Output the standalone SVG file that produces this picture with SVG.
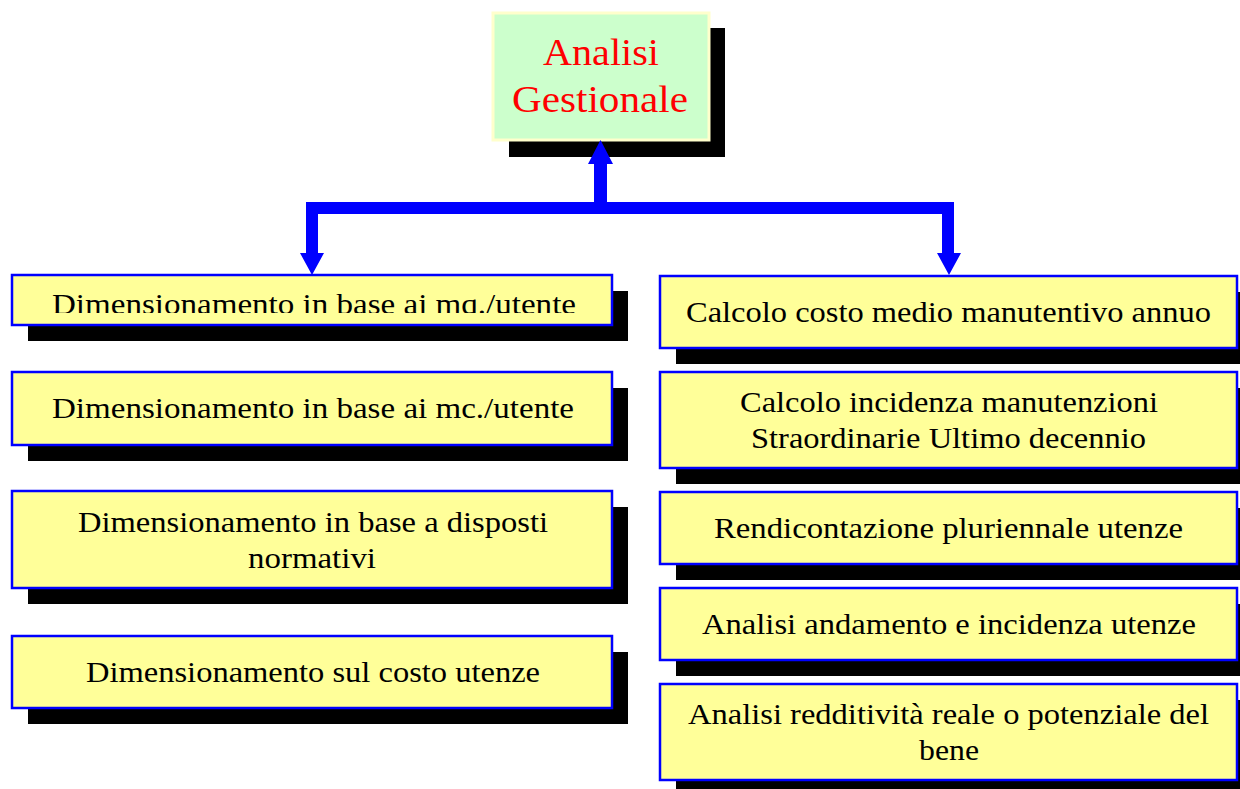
<svg xmlns="http://www.w3.org/2000/svg" width="1240" height="789" viewBox="0 0 1240 789">
<style>
.sh{fill:#000}
.box{fill:#FFFF99;stroke:#0000FF;stroke-width:2.5}
.top{fill:#CCFFCC;stroke:#FFFFCC;stroke-width:3}
.t{font-family:"Liberation Serif",serif;font-size:29px;fill:#000;text-anchor:middle}
.tt{font-family:"Liberation Serif",serif;font-size:38px;fill:#FF0000;text-anchor:middle}
.con{fill:#0000FF}
</style>
<defs>
<clipPath id="c1"><rect x="12" y="277" width="600" height="36"/></clipPath>
</defs>
<rect width="1240" height="789" fill="#fff"/>
<g id="node-top">
<rect class="sh" x="509" y="28" width="216" height="129"/>
<rect class="top" x="493" y="13" width="216" height="127"/>
<text class="tt" x="601" y="65" textLength="116" lengthAdjust="spacingAndGlyphs">Analisi</text>
<text class="tt" x="600" y="112" textLength="176" lengthAdjust="spacingAndGlyphs">Gestionale</text>
</g>
<g id="node-l1">
<rect class="sh" x="28" y="291" width="600" height="50"/>
<rect class="box" x="12" y="275" width="600" height="50"/>
<text class="t" x="314" y="314" clip-path="url(#c1)" textLength="524" lengthAdjust="spacingAndGlyphs">Dimensionamento in base ai mq./utente</text>
</g>
<g id="node-l2">
<rect class="sh" x="28" y="388" width="600" height="73"/>
<rect class="box" x="12" y="372" width="600" height="73"/>
<text class="t" x="313" y="418" textLength="522" lengthAdjust="spacingAndGlyphs">Dimensionamento in base ai mc./utente</text>
</g>
<g id="node-l3">
<rect class="sh" x="28" y="507" width="600" height="97"/>
<rect class="box" x="12" y="491" width="600" height="97"/>
<text class="t" x="313" y="532" textLength="470" lengthAdjust="spacingAndGlyphs">Dimensionamento in base a disposti</text>
<text class="t" x="312" y="568" textLength="128" lengthAdjust="spacingAndGlyphs">normativi</text>
</g>
<g id="node-l4">
<rect class="sh" x="28" y="652" width="600" height="72"/>
<rect class="box" x="12" y="636" width="600" height="72"/>
<text class="t" x="313" y="682" textLength="454" lengthAdjust="spacingAndGlyphs">Dimensionamento sul costo utenze</text>
</g>
<g id="node-r1">
<rect class="sh" x="676" y="292" width="577" height="72"/>
<rect class="box" x="660" y="276" width="577" height="72"/>
<text class="t" x="948.5" y="322" textLength="525" lengthAdjust="spacingAndGlyphs">Calcolo costo medio manutentivo annuo</text>
</g>
<g id="node-r2">
<rect class="sh" x="676" y="388" width="577" height="96"/>
<rect class="box" x="660" y="372" width="577" height="96"/>
<text class="t" x="949" y="412" textLength="418" lengthAdjust="spacingAndGlyphs">Calcolo incidenza manutenzioni</text>
<text class="t" x="948.5" y="448" textLength="395" lengthAdjust="spacingAndGlyphs">Straordinarie Ultimo decennio</text>
</g>
<g id="node-r3">
<rect class="sh" x="676" y="508" width="577" height="72"/>
<rect class="box" x="660" y="492" width="577" height="72"/>
<text class="t" x="948.5" y="538" textLength="469" lengthAdjust="spacingAndGlyphs">Rendicontazione pluriennale utenze</text>
</g>
<g id="node-r4">
<rect class="sh" x="676" y="604" width="577" height="72"/>
<rect class="box" x="660" y="588" width="577" height="72"/>
<text class="t" x="949" y="634" textLength="494" lengthAdjust="spacingAndGlyphs">Analisi andamento e incidenza utenze</text>
</g>
<g id="node-r5">
<rect class="sh" x="676" y="700" width="577" height="96"/>
<rect class="box" x="660" y="684" width="577" height="96"/>
<text class="t" x="948.5" y="724" textLength="521" lengthAdjust="spacingAndGlyphs">Analisi redditività reale o potenziale del</text>
<text class="t" x="949" y="760" textLength="60" lengthAdjust="spacingAndGlyphs">bene</text>
</g>
<g id="connectors">
<path class="con" d="M594 214 V164 H588 L600.5 140 L613 164 H607 V214 Z"/>
<path class="con" d="M306 202 H954 V253 H961 L949 275 L937 253 H942 V214 H318 V253 H324 L312 275 L300 253 H306 Z"/>
</g>
</svg>
